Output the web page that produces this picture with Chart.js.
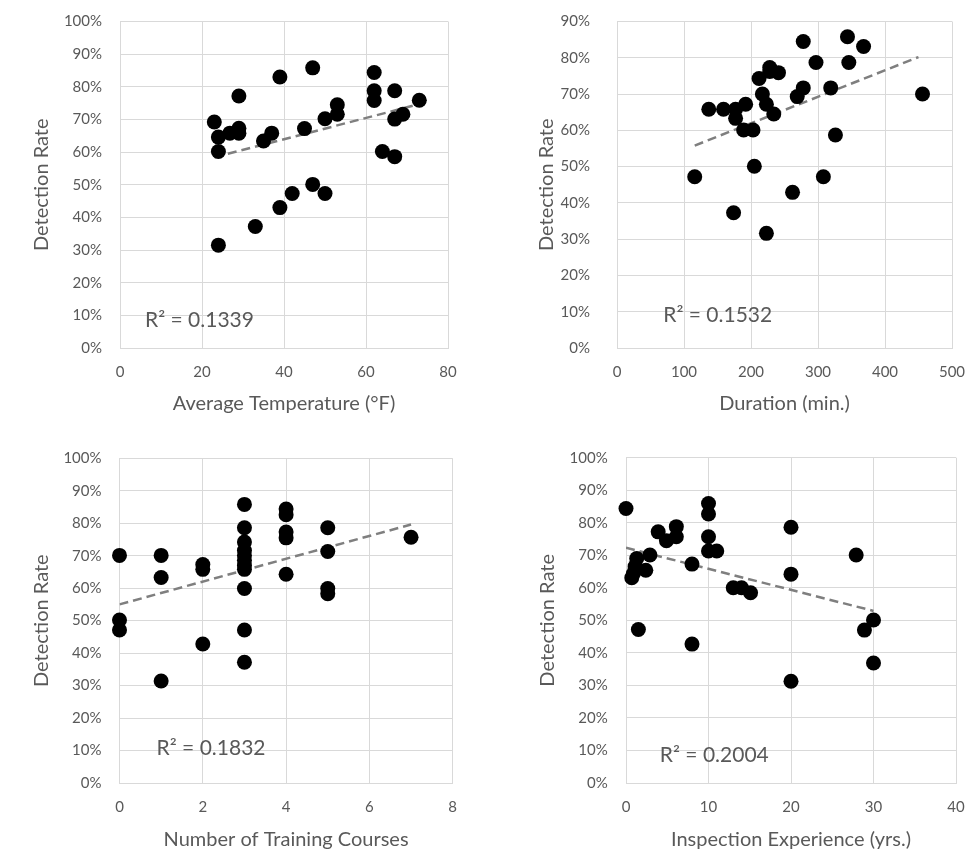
<!DOCTYPE html>
<html>
<head>
<meta charset="utf-8">
<script src="https://cdn.jsdelivr.net/npm/chart.js@4.4.1/dist/chart.umd.min.js"></script>
<style>
  html, body { margin: 0; padding: 0; background: #ffffff; }
  #wrap { position: relative; width: 972px; height: 867px; overflow: hidden; }
  .cell { position: absolute; }
</style>
</head>
<body>
<div id="wrap">
  <div class="cell" style="left:0px;top:0px;"><canvas id="c1" width="486" height="430"></canvas></div>
  <div class="cell" style="left:486px;top:0px;"><canvas id="c2" width="486" height="430"></canvas></div>
  <div class="cell" style="left:0px;top:430px;"><canvas id="c3" width="486" height="437"></canvas></div>
  <div class="cell" style="left:486px;top:430px;"><canvas id="c4" width="486" height="437"></canvas></div>
</div>
<script>
// ---------- DATA ----------
const yTitle = "Detection Rate";

// Panel 1: Average Temperature (°F)
const tempX = [23, 24, 24, 24, 26.8, 29, 29, 29, 33, 35, 37, 39, 39, 42, 45, 47, 47, 50, 50, 53, 53, 62, 62, 62, 64, 67, 67, 67, 69, 73];
const tempY = [69.2, 64.6, 60.2, 31.5, 65.8, 67.3, 65.8, 77.2, 37.2, 63.4, 65.8, 83.0, 43.0, 47.3, 67.2, 85.8, 50.1, 70.2, 47.3, 74.5, 71.6, 84.4, 78.8, 75.8, 60.2, 78.8, 70.1, 58.6, 71.6, 75.9];
const tempTrendX = [23, 73];
const tempTrendY = [58.4, 74.7];
const tempR2 = "R² = 0.1339";

// Panel 2: Duration (min.)
const durX = [116, 137, 159, 177, 177, 192, 189, 203, 174, 205, 212, 217, 223, 223, 228, 228, 241, 234, 262, 269, 278, 278, 297, 308, 319, 326, 344, 346, 368, 456];
const durY = [47.2, 65.8, 65.8, 65.8, 63.3, 67.2, 60.1, 60.1, 37.3, 50.1, 74.3, 70.0, 67.2, 31.6, 77.3, 76.2, 75.9, 64.5, 42.9, 69.3, 71.7, 84.5, 78.7, 47.2, 71.7, 58.7, 85.8, 78.7, 83.1, 70.0];
const durTrendX = [116, 450];
const durTrendY = [55.8, 80.2];
const durR2 = "R² = 0.1532";

// Panel 3: Number of Training Courses
const trainX = [0, 0, 0, 1, 1, 1, 2, 2, 2, 3, 3, 3, 3, 3, 3, 3, 3, 3, 3, 3, 4, 4, 4, 4, 4, 5, 5, 5, 5, 7];
const trainY = [70.1, 50.2, 47.1, 70.1, 63.3, 31.4, 67.3, 65.8, 42.8, 85.8, 78.6, 74.2, 71.6, 70.1, 68.6, 67.0, 65.8, 59.9, 47.1, 37.2, 84.4, 82.6, 77.3, 75.5, 64.3, 78.6, 71.3, 59.9, 58.3, 75.7];
const trainTrendX = [0, 7];
const trainTrendY = [55.0, 79.6];
const trainR2 = "R² = 0.1832";

// Panel 4: Inspection Experience (yrs.)
const expX = [0, 0.7, 0.9, 1.1, 1.3, 1.5, 2.4, 2.9, 3.9, 4.9, 6.1, 6.1, 8, 8, 10, 10, 10, 10, 11, 13, 14, 15.1, 20, 20, 20, 27.9, 28.9, 30, 30];
const expY = [84.4, 63.1, 64.4, 66.5, 69.0, 47.2, 65.4, 70.1, 77.2, 74.5, 78.8, 75.7, 67.3, 42.7, 85.9, 82.7, 75.7, 71.3, 71.3, 60.0, 60.0, 58.5, 78.6, 64.2, 31.3, 70.1, 47.0, 50.1, 36.9];
const expTrendX = [0, 30];
const expTrendY = [72.3, 52.9];
const expR2 = "R² = 0.2004";

// ---------- RENDERING ----------
const FONT = "Lato, 'Open Sans', sans-serif";
const TXT = "#595959";
const GRID = "#d9d9d9";

Chart.defaults.font.family = FONT;
Chart.defaults.color = TXT;

const r2Plugin = {
  id: 'r2label',
  afterDatasetsDraw(chart, args, opts) {
    const {ctx, scales} = chart;
    const px = scales.x.getPixelForValue(opts.x);
    const py = scales.y.getPixelForValue(opts.y);
    ctx.save();
    ctx.font = "21px " + FONT;
    ctx.fillStyle = TXT;
    ctx.textAlign = 'left';
    ctx.textBaseline = 'middle';
    ctx.fillText(opts.text, px, py);
    ctx.restore();
  }
};

function pts(xs, ys) { return xs.map((x, i) => ({x: x, y: ys[i]})); }

function makeChart(id, cfg) {
  const L = cfg.layout;
  return new Chart(document.getElementById(id), {
    type: 'scatter',
    data: {
      datasets: [
        {
          data: pts(cfg.xs, cfg.ys),
          backgroundColor: '#000000',
          borderColor: '#000000',
          borderWidth: 0,
          pointRadius: 7.5,
          pointHoverRadius: 7.5,
          clip: false,
          order: 1
        },
        {
          type: 'line',
          data: pts(cfg.tx, cfg.ty),
          borderColor: '#7f7f7f',
          borderWidth: 2.5,
          borderDash: [9, 5],
          pointRadius: 0,
          fill: false,
          order: 2
        }
      ]
    },
    options: {
      responsive: false,
      animation: false,
      devicePixelRatio: 1,
      events: [],
      layout: { padding: { left: 0, top: L.top, right: L.right, bottom: 0 } },
      plugins: {
        legend: { display: false },
        tooltip: { enabled: false },
        r2label: { text: cfg.r2, x: cfg.r2x, y: cfg.r2y }
      },
      scales: {
        x: {
          type: 'linear',
          min: cfg.xmin, max: cfg.xmax,
          ticks: { stepSize: cfg.xstep, padding: 15, font: { size: 15 }, color: TXT },
          grid: { color: GRID, lineWidth: 1, drawTicks: false },
          border: { display: true, color: GRID, width: 1 },
          title: { display: true, text: cfg.xtitle, font: { size: 20 }, color: TXT, padding: { top: 0, bottom: L.xtb } },
          afterFit(s) { s.height = L.xh; s.paddingLeft = 0; s.paddingRight = 0; }
        },
        y: {
          type: 'linear',
          min: 0, max: cfg.ymax,
          ticks: { stepSize: 10, padding: L.ytp, font: { size: 15 }, color: TXT, callback: v => v + '%' },
          grid: { color: GRID, lineWidth: 1, drawTicks: false },
          border: { display: true, color: GRID, width: 1 },
          title: { display: true, text: yTitle, font: { size: 20 }, color: TXT, padding: { top: L.ytt, bottom: 0 } },
          afterFit(s) { s.width = L.yw; s.paddingTop = 0; s.paddingBottom = 0; }
        }
      }
    },
    plugins: [r2Plugin]
  });
}

makeChart('c1', {
  xs: tempX, ys: tempY, tx: tempTrendX, ty: tempTrendY, r2: tempR2, r2x: 6.1, r2y: 8.6,
  xmin: 0, xmax: 80, xstep: 20, ymax: 100, xtitle: "Average Temperature (°F)",
  layout: { top: 21.5, right: 38, xh: 82, xtb: 14, yw: 120, ytp: 18, ytt: 30 }
});
makeChart('c2', {
  xs: durX, ys: durY, tx: durTrendX, ty: durTrendY, r2: durR2, r2x: 69, r2y: 9.0,
  xmin: 0, xmax: 500, xstep: 100, ymax: 90, xtitle: "Duration (min.)",
  layout: { top: 21.5, right: 20, xh: 82, xtb: 14, yw: 131, ytp: 27, ytt: 49 }
});
makeChart('c3', {
  xs: trainX, ys: trainY, tx: trainTrendX, ty: trainTrendY, r2: trainR2, r2x: 0.89, r2y: 10.8,
  xmin: 0, xmax: 8, xstep: 2, ymax: 100, xtitle: "Number of Training Courses",
  layout: { top: 28.3, right: 33.3, xh: 84, xtb: 15, yw: 119.5, ytp: 18, ytt: 30 }
});
makeChart('c4', {
  xs: expX, ys: expY, tx: expTrendX, ty: expTrendY, r2: expR2, r2x: 4.1, r2y: 8.5,
  xmin: 0, xmax: 40, xstep: 10, ymax: 100, xtitle: "Inspection Experience (yrs.)",
  layout: { top: 27.7, right: 16, xh: 84, xtb: 15, yw: 140, ytp: 18.3, ytt: 50 }
});
</script>
</body>
</html>
